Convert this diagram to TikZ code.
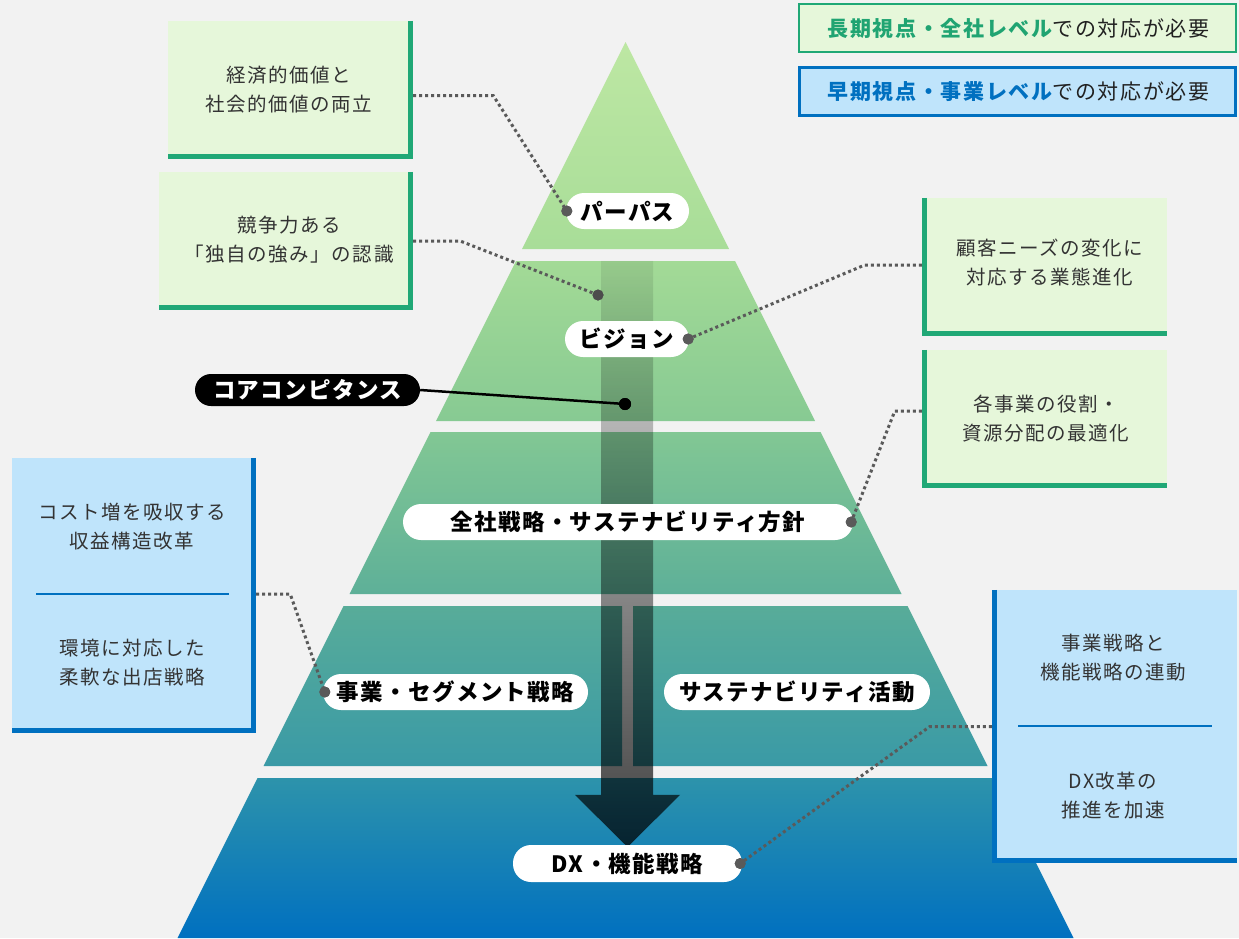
\documentclass[tikz,border=0pt]{standalone}
\usepackage{fontspec}
\setmainfont{Noto Sans CJK JP}
\newfontfamily\boxf[LetterSpace=8]{Noto Sans CJK JP}
\newfontfamily\pillf[LetterSpace=6]{Noto Sans CJK JP}
\newfontfamily\legf[LetterSpace=8]{Noto Sans CJK JP}
\usetikzlibrary{fadings,calc}
\definecolor{bg}{HTML}{F2F2F2}
\definecolor{gfill}{HTML}{E6F7DA}
\definecolor{gline}{HTML}{20A876}
\definecolor{gtext}{HTML}{20A472}
\definecolor{bfill}{HTML}{BFE4FB}
\definecolor{bline}{HTML}{0070C0}
\definecolor{txt}{HTML}{333333}
\definecolor{dotc}{HTML}{5A5A5A}
\definecolor{ta}{HTML}{BDE7A3}
\definecolor{tb}{HTML}{A8DD98}
\definecolor{tc}{HTML}{A3DA96}
\definecolor{td}{HTML}{87CA93}
\definecolor{te}{HTML}{82C794}
\definecolor{tf}{HTML}{5EB098}
\definecolor{tg}{HTML}{58AC99}
\definecolor{th}{HTML}{3A9AA6}
\definecolor{ti}{HTML}{2D93AB}
\definecolor{tj}{HTML}{0070C0}
\tikzfading[name=arrowfade, top color=transparent!93, bottom color=transparent!27]
\begin{document}
\begin{tikzpicture}[x=1pt,y=-1pt,
  pill/.style={rounded corners=18pt, fill=white, inner sep=0pt, minimum height=36pt,
    font=\pillf\bfseries\fontsize{22.5}{25}\selectfont, text=black},
  gbox/.style={fill=gfill, inner sep=0pt},
  bbox/.style={fill=bfill, inner sep=0pt},
  gborder/.style={draw=gline, line width=5.5pt, line cap=butt, line join=miter},
  bborder/.style={draw=bline, line width=5.5pt, line cap=butt, line join=miter},
  boxtext/.style={font=\boxf\fontsize{19.5}{29}\selectfont, text=txt, align=center, inner sep=0pt},
  conn/.style={draw=dotc, line width=3pt, dash pattern=on 3pt off 3pt},
  dotn/.style={circle, fill=dotc, inner sep=0pt, minimum size=11pt},
  divider/.style={draw=bline, line width=1.2pt},
  legtext/.style={font=\legf\fontsize{21}{24}\selectfont, text=black!87}
]
\useasboundingbox (0,0) rectangle (1239,938);
\fill[bg] (0,0) rectangle (1239,938);

% pyramid tiers
\shade[top color=ta, bottom color=tb] (625.5,42) -- (729,249) -- (522,249) -- cycle;
\shade[top color=tc, bottom color=td] (516,261) -- (735,261) -- (815,421) -- (436,421) -- cycle;
\shade[top color=te, bottom color=tf] (430.5,432) -- (820.5,432) -- (901.5,594) -- (349.5,594) -- cycle;
\shade[top color=tg, bottom color=th] (343.5,606) -- (622,606) -- (622,766) -- (263.5,766) -- cycle;
\shade[top color=tg, bottom color=th] (633,606) -- (907.5,606) -- (987.5,766) -- (633,766) -- cycle;
\shade[top color=ti, bottom color=tj] (257.5,778) -- (993.5,778) -- (1073.5,938) -- (177.5,938) -- cycle;

% down arrow overlay
\fill[black, path fading=arrowfade] (601,261) -- (653,261) -- (653,795) -- (680,795) -- (627.5,847) -- (575,795) -- (601,795) -- cycle;

% pills
\node[pill, minimum width=123pt] (pP) at (627.5,211) {パーパス};
\node[pill, minimum width=124pt] (pV) at (627,339) {ビジョン};
\node[pill, minimum width=225pt, minimum height=32pt, rounded corners=16pt, fill=black, text=white] (pCore) at (307.5,390) {コアコンピタンス};
\node[pill, minimum width=450pt] (pZ) at (628,522) {全社戦略・サステナビリティ方針};
\node[pill, minimum width=265pt] (pJ) at (455.5,692) {事業・セグメント戦略};
\node[pill, minimum width=266pt] (pS) at (797,692) {サステナビリティ活動};
\node[pill, minimum width=229pt, minimum height=37pt] (pDX) at (627.5,863.5) {DX・機能戦略};

% dots
\node[dotn] (dP) at ([xshift=1pt]pP.west) {};
\node[dotn] (dV) at ([xshift=-1pt]pV.east) {};
\node[dotn] (dZ) at ([xshift=-2pt]pZ.east) {};
\node[dotn] (dJ) at ([xshift=2pt]pJ.west) {};
\node[dotn] (dDX) at ([xshift=-2pt]pDX.east) {};
\node[dotn, fill=black!70] (dB) at (598,295) {};
\node[circle, fill=black, inner sep=0pt, minimum size=12pt] (dCore) at (625,404) {};

% boxes
\node[gbox, minimum width=245pt, minimum height=138pt] (bA) at (290.5,90) {};
\draw[gborder] ([xshift=-2.75pt]bA.north east) -- ([xshift=-2.75pt,yshift=2.75pt]bA.south east) -- ([yshift=2.75pt]bA.south west);
\node[boxtext] (tA) at (289,89.5) {経済的価値と\\社会的価値の両立};

\node[gbox, minimum width=254pt, minimum height=138pt] (bB) at (286,241) {};
\draw[gborder] ([xshift=-2.75pt]bB.north east) -- ([xshift=-2.75pt,yshift=2.75pt]bB.south east) -- ([yshift=2.75pt]bB.south west);
\node[boxtext] (tB) at (289,240) {競争力ある\\「独自の強み」の認識};

\node[gbox, minimum width=245pt, minimum height=138pt] (bC) at (1044.5,267) {};
\draw[gborder] ([xshift=2.75pt]bC.north west) -- ([xshift=2.75pt,yshift=2.75pt]bC.south west) -- ([yshift=2.75pt]bC.south east);
\node[boxtext] (tC) at (1050,262.5) {顧客ニーズの変化に\\対応する業態進化};

\node[gbox, minimum width=245pt, minimum height=138pt] (bD) at (1044.5,419) {};
\draw[gborder] ([xshift=2.75pt]bD.north west) -- ([xshift=2.75pt,yshift=2.75pt]bD.south west) -- ([yshift=2.75pt]bD.south east);
\node[boxtext] (tD) at (1046,418.5) {各事業の役割・\\資源分配の最適化};

\node[bbox, minimum width=244pt, minimum height=275pt] (bE) at (134,595.5) {};
\draw[bborder] ([xshift=-2.75pt]bE.north east) -- ([xshift=-2.75pt,yshift=2.75pt]bE.south east) -- ([yshift=2.75pt]bE.south west);
\node[boxtext] (tE1) at (132,527) {コスト増を吸収する\\収益構造改革};
\node[boxtext] (tE2) at (132,662.5) {環境に対応した\\柔軟な出店戦略};
\draw[divider] (36,594) -- (229,594);

\node[bbox, minimum width=245pt, minimum height=273pt] (bF) at (1114.5,726.5) {};
\draw[bborder] ([xshift=2.75pt]bF.north west) -- ([xshift=2.75pt,yshift=2.75pt]bF.south west) -- ([yshift=2.75pt]bF.south east);
\node[boxtext] (tF1) at (1113,658) {事業戦略と\\機能戦略の連動};
\node[boxtext] (tF2) at (1113,796) {DX改革の\\推進を加速};
\draw[divider] (1018,726) -- (1212,726);

% connectors
\draw[conn] ([yshift=-5.5pt]bA.east) -- ++(80,0) -- (dP.center);
\draw[conn] (bB.east) -- ++(47,0) -- (dB.center);
\draw[conn] ([yshift=2pt]bC.west) -- ++(-57,0) -- (dV.center);
\draw[conn] ([yshift=8pt]bD.west) -- ++(-27,0) -- (dZ.center);
\draw[conn] ([yshift=1.5pt]bE.east) -- ++(34,0) -- (dJ.center);
\draw[conn] (bF.west) -- ++(-62,0) -- (dDX.center);
\draw[line width=2.5pt] (pCore.east) -- (dCore.center);
% redraw dots over connectors
\node[dotn] at (dP) {};
\node[dotn] at (dV) {};
\node[dotn] at (dZ) {};
\node[dotn] at (dJ) {};
\node[dotn] at (dDX) {};
\node[dotn, fill=black!70] at (dB) {};
\node[circle, fill=black, inner sep=0pt, minimum size=12pt] at (dCore) {};

% legend
\node[fill=gfill, draw=gline, line width=2.5pt, minimum width=437pt, minimum height=48pt, inner sep=0pt] (lg1) at (1017.5,28) {};
\node[legtext] (lt1) at (1018.5,28) {\textcolor{gtext}{\bfseries 長期視点・全社レベル}での対応が必要};
\node[fill=bfill, draw=bline, line width=3pt, minimum width=436pt, minimum height=48pt, inner sep=0pt] (lg2) at (1017.5,91.5) {};
\node[legtext] (lt2) at (1018.5,91.5) {\textcolor{bline}{\bfseries 早期視点・事業レベル}での対応が必要};
\end{tikzpicture}
\end{document}
